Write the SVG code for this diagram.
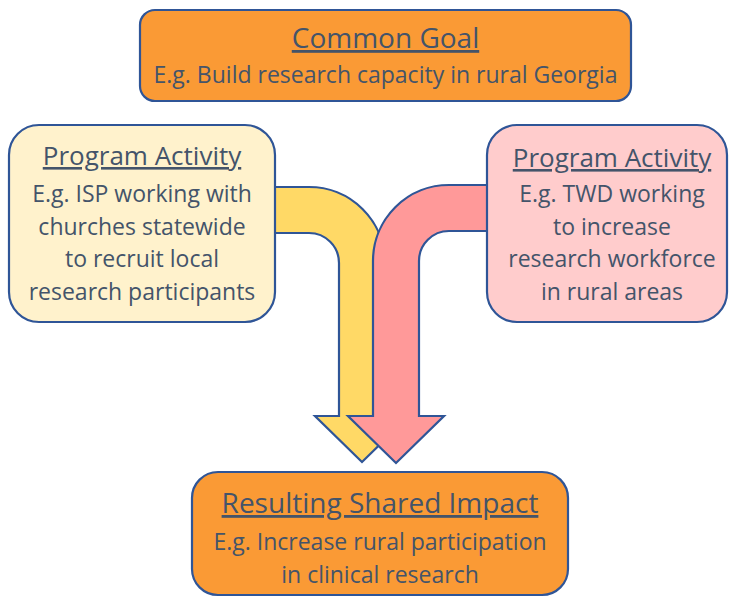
<svg xmlns="http://www.w3.org/2000/svg" width="730" height="597" viewBox="0 0 730 597">
<style>
.box{stroke:#2F5597;stroke-width:2.2}
.arrow{stroke:#2F5597;stroke-width:2.2;stroke-linejoin:miter}
text{font-family:"Open Sans","DejaVu Sans",sans-serif;fill:#44546A;text-anchor:middle}
.h{text-decoration:underline}
.t28{font-size:28px}
.t23{font-size:23px}
.t26{font-size:26px}
</style>
<rect width="730" height="597" fill="#FFFFFF"/>
<g id="connectors">
<path class="arrow" fill="#FFD966" d="M260,187 H309 A76,76 0 0 1 385,263 V416 H409 L362,462 L315,416 H339 V263 A30,30 0 0 0 309,233 H260 Z"/>
<path class="arrow" fill="#FF9999" d="M500,185 H449 A76,76 0 0 0 373,261 V416 H348 L396,463 L444,416 H419 V261 A30,30 0 0 1 449,231 H500 Z"/>
</g>
<g id="common-goal">
<rect class="box" x="140" y="10" width="491" height="91" rx="15" fill="#FA9A35"/>
<text class="t28 h" x="385.5" y="48">Common Goal</text>
<text class="t23" x="385.5" y="83">E.g. Build research capacity in rural Georgia</text>
</g>
<g id="activity-isp">
<rect class="box" x="9" y="125" width="266" height="197" rx="30" fill="#FFF2CC"/>
<text class="t26 h" x="142" y="165">Program Activity</text>
<text class="t23" x="142" y="202">E.g. ISP working with</text>
<text class="t23" x="142" y="235">churches statewide</text>
<text class="t23" x="142" y="267">to recruit local</text>
<text class="t23" x="142" y="300">research participants</text>
</g>
<g id="activity-twd">
<rect class="box" x="487" y="125" width="240" height="197" rx="30" fill="#FFCCCC"/>
<text class="t26 h" x="612" y="167">Program Activity</text>
<text class="t23" x="612" y="202">E.g. TWD working</text>
<text class="t23" x="612" y="235">to increase</text>
<text class="t23" x="612" y="267">research workforce</text>
<text class="t23" x="612" y="300">in rural areas</text>
</g>
<g id="shared-impact">
<rect class="box" x="192" y="472" width="376" height="123" rx="26" fill="#FA9A35"/>
<text class="t28 h" x="380" y="513">Resulting Shared Impact</text>
<text class="t23" x="380" y="550">E.g. Increase rural participation</text>
<text class="t23" x="380" y="583">in clinical research</text>
</g>
</svg>
